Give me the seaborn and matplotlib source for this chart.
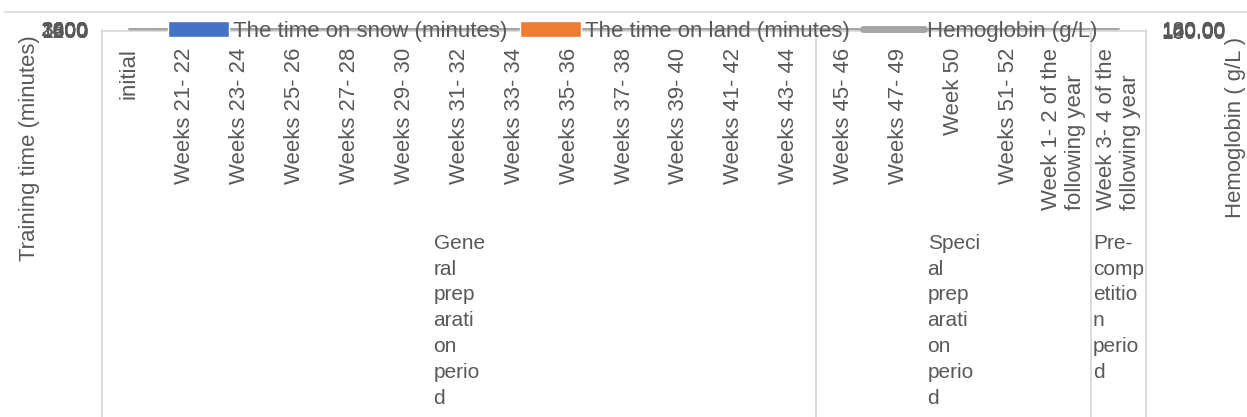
import numpy as np
import pandas as pd
import matplotlib
matplotlib.use("Agg")
import matplotlib.pyplot as plt
import matplotlib.transforms as mtransforms
from matplotlib.lines import Line2D
from matplotlib.patches import Patch
import seaborn as sns

# ---- data -------------------------------------------------------------
categories = [
    "initial", "Weeks 21- 22", "Weeks 23- 24", "Weeks 25- 26", "Weeks 27- 28",
    "Weeks 29- 30", "Weeks 31- 32", "Weeks 33- 34", "Weeks 35- 36", "Weeks 37- 38",
    "Weeks 39- 40", "Weeks 41- 42", "Weeks 43- 44", "Weeks 45- 46", "Weeks 47- 49",
    "Week 50", "Weeks 51- 52", "Week 1- 2 of the\nfollowing year",
    "Week 3- 4 of the\nfollowing year",
]
snow_minutes = [0, 600, 720, 840, 900, 960, 1080, 1200, 1320, 1440,
                1500, 1560, 1620, 1680, 1740, 1800, 1860, 1920, 1680]
land_minutes = [0, 1200, 1140, 1080, 1020, 960, 900, 840, 780, 720,
                660, 600, 540, 480, 420, 360, 300, 240, 180]
hemoglobin = [152, 150, 149, 148, 150, 151, 153, 152, 154, 155,
              156, 155, 157, 158, 156, 157, 159, 160, 161]

series_names = ["The time on snow (minutes)", "The time on land (minutes)"]
hemo_name = "Hemoglobin (g/L)"

periods = ["Gene\nral\nprep\narati\non\nperio\nd",
           "Speci\nal\nprep\narati\non\nperio\nd",
           "Pre-\ncomp\netitio\nn\nperio\nd"]
period_bounds = [(-0.5, 12.5), (12.5, 17.5), (17.5, 18.5)]

left_ticks = list(range(0, 3601, 600))
right_ticks = [100, 120, 140, 160, 180]

# ---- style ------------------------------------------------------------
sns.set_theme(style="white")
plt.rcParams["font.family"] = ["Liberation Sans", "DejaVu Sans"]
TXT = "#595959"
GRID = "#D9D9D9"
BLUE = "#4472C4"
ORANGE = "#ED7D31"
GRAY = "#A5A5A5"
FS = 15.9

W, H = 1247, 417
fig = plt.figure(figsize=(W / 100, H / 100), dpi=100)
ax = fig.add_axes([102 / W, 1 - 31 / H, 1044 / W, 3 / H])

df = pd.DataFrame({
    "period": categories * 2,
    "minutes": snow_minutes + land_minutes,
    "series": [series_names[0]] * len(categories) + [series_names[1]] * len(categories),
})
sns.barplot(data=df, x="period", y="minutes", hue="series", order=categories,
            hue_order=series_names, palette=[BLUE, ORANGE], width=0.4,
            ax=ax, legend=False, saturation=1)

ax2 = ax.twinx()
sns.lineplot(x=np.arange(len(categories)), y=hemoglobin, color=GRAY, lw=2, ax=ax2)

for a in (ax, ax2):
    a.set_xlim(-0.5, len(categories) - 0.5)
    for s in a.spines.values():
        s.set_visible(False)
    a.set_facecolor("none")
ax.spines["bottom"].set_visible(True)
ax.spines["bottom"].set_color(GRID)

ax.set_ylim(0, 3600)
ax.set_yticks(left_ticks)
ax.set_yticklabels([str(t) for t in left_ticks])
ax2.set_ylim(100, 180)
ax2.set_yticks(right_ticks)
ax2.set_yticklabels([f"{t:.2f}" for t in right_ticks])

ax.set_xticks(range(len(categories)))
ax.set_xticklabels(categories, rotation=90, va="top", ha="center",
                   multialignment="left")
ax.tick_params(axis="x", length=0, pad=12, labelsize=FS, labelcolor=TXT)
ax.tick_params(axis="y", length=0, pad=10, labelsize=15, labelcolor=TXT)
ax2.tick_params(axis="y", length=0, pad=11, labelsize=15, labelcolor=TXT)
ax.set_xlabel("")
ax.set_ylabel("")
ax2.set_ylabel("")

# axis titles
fig.text(30 / W, 1 - 148 / H, "Training time (minutes)", rotation=90,
         ha="center", va="center", fontsize=FS, color=TXT)
fig.text(1236 / W, 1 - 127 / H, "Hemoglobin ( g/L )", rotation=90,
         ha="center", va="center", fontsize=FS, color=TXT)

# period separators and labels below the category axis
trans = mtransforms.blended_transform_factory(ax.transData, fig.transFigure)
for x in (-0.5, 12.5, 17.5, 18.5):
    fig.add_artist(Line2D([x, x], [1 - 30 / H, 0], transform=trans,
                          color=GRID, lw=1.3, clip_on=False))
for text, (a0, a1) in zip(periods, period_bounds):
    fig.text((a0 + a1) / 2, 1 - 234 / H, text, transform=trans, ha="center",
             va="top", multialignment="left", fontsize=15, color=TXT,
             linespacing=1.45)

# chart border across the top
fig.add_artist(Line2D([5 / W, 1], [1 - 12 / H, 1 - 12 / H],
                      transform=fig.transFigure, color=GRID, lw=1.3))

handles = [Patch(facecolor=BLUE), Patch(facecolor=ORANGE),
           Line2D([], [], color=GRAY, lw=5)]
fig.legend(handles, series_names + [hemo_name], loc="center",
           bbox_to_anchor=(633 / W, 1 - 31 / H), ncol=3, frameon=False,
           fontsize=16, labelcolor=TXT, handlelength=2.75, handletextpad=0.15,
           columnspacing=0.6, borderpad=0, borderaxespad=0)

fig.savefig("out.png", dpi=100, facecolor="white")
